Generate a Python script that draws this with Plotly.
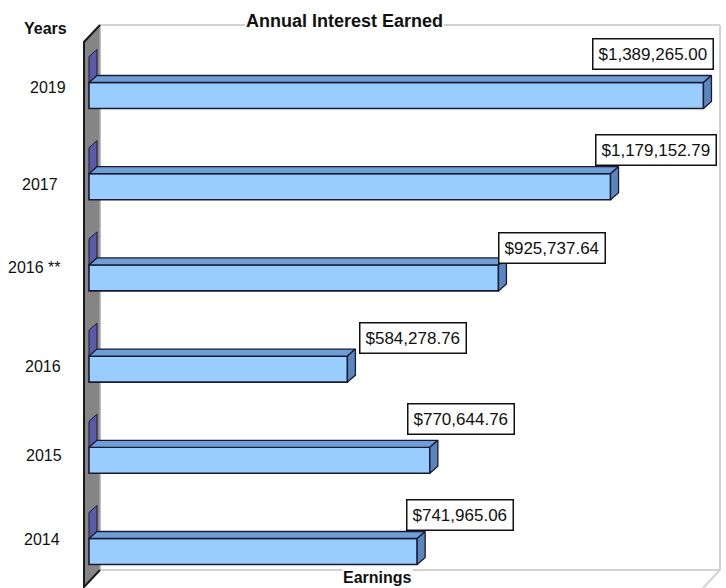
import plotly.graph_objects as go

# ---------------- data ----------------
years = ["2019", "2017", "2016 **", "2016", "2015", "2014"]          # top -> bottom
earnings = [1389265.00, 1179152.79, 925737.64, 584278.76, 770644.76, 741965.06]
hidden_series = [0, 0, 0, 0, 0, 0]                                      # purple (zero) series

title_text = "Annual Interest Earned"
y_title = "Years"
x_title = "Earnings"

# ---------------- styling / layout helpers ----------------
FONT = "Liberation Sans, Arial, sans-serif"
W_FIG, H_FIG = 726, 588
L, R, T, B = 83, 722, 25, 588            # plot area in pixels
X0PX, KX = 89.0, 4.423e-4                # pixel of zero, px per $
Y0PX, KY = 551.5, 91.2                   # pixel of bottom category centre, px per category
BAR_H = 0.285                            # bar thickness (category units)
DX = 8 / KX                              # 3-D depth offset in $ units
DY = 7 / KY                              # 3-D depth offset in category units

FRONT = "#99CCFF"
TOP = "#6F9ED6"
SIDE = "#5A86BD"
PURPLE = "#5A5AA8"
EDGE = "#1A1A33"

# per-label pixel offsets of the value boxes (relative to bar end / bar top)
box_dx = [-50.5, 45.5, 53.5, 66, 31, 43]
box_dy = [29, 24, 16.5, 18.5, 28.5, 23.5]
# tick label right edges (px) and vertical shift (px, up)
tick_right = [68, 60, 63, 63, 64, 62]
tick_up = [8, 2.5, 10.5, 3, 4.5, 12.5]

n = len(years)
ypos = [n - 1 - k for k in range(n)]


def px(x):
    return (x - L) / (R - L)


def py(y):
    return (B - y) / (B - T)


fig = go.Figure()

# purple zero-value bars (seen as side faces only)
xs, ys = [], []
for v, c in zip(hidden_series, ypos):
    cc = c + BAR_H
    xs += [v, v, v + DX, v + DX, v, None]
    ys += [cc - BAR_H / 2, cc + BAR_H / 2, cc + BAR_H / 2 + DY, cc - BAR_H / 2 + DY, cc - BAR_H / 2, None]
fig.add_trace(go.Scatter(x=xs, y=ys, fill="toself", fillcolor=PURPLE, mode="lines",
                         line=dict(color=EDGE, width=1), hoverinfo="skip", showlegend=False))

# blue front faces
fig.add_trace(go.Bar(x=earnings, y=ypos, orientation="h", width=BAR_H, base=0,
                     marker=dict(color=FRONT, line=dict(color=EDGE, width=1.6)),
                     hoverinfo="skip", showlegend=False))

# top faces
xs, ys = [], []
for v, c in zip(earnings, ypos):
    t = c + BAR_H / 2
    xs += [0, DX, v + DX, v, 0, None]
    ys += [t, t + DY, t + DY, t, t, None]
fig.add_trace(go.Scatter(x=xs, y=ys, fill="toself", fillcolor=TOP, mode="lines",
                         line=dict(color=EDGE, width=1.3), hoverinfo="skip", showlegend=False))

# end (side) faces
xs, ys = [], []
for v, c in zip(earnings, ypos):
    b, t = c - BAR_H / 2, c + BAR_H / 2
    xs += [v, v, v + DX, v + DX, v, None]
    ys += [b, t, t + DY, b + DY, b, None]
fig.add_trace(go.Scatter(x=xs, y=ys, fill="toself", fillcolor=SIDE, mode="lines",
                         line=dict(color=EDGE, width=1.3), hoverinfo="skip", showlegend=False))

annotations = []
# value boxes
for k, (v, c) in enumerate(zip(earnings, ypos)):
    annotations.append(dict(
        x=v, y=c + BAR_H / 2, xref="x", yref="y", text=f"${v:,.2f}", showarrow=False,
        xanchor="center", yanchor="middle", xshift=box_dx[k], yshift=box_dy[k],
        font=dict(family=FONT, size=17, color="#111111"),
        bgcolor="white", bordercolor="#111111", borderwidth=1.5, borderpad=5))
# category labels
for k, c in enumerate(ypos):
    annotations.append(dict(
        x=px(tick_right[k]), y=c, xref="paper", yref="y", text=years[k], showarrow=False,
        xanchor="right", yanchor="middle", yshift=tick_up[k],
        font=dict(family=FONT, size=16, color="#111111")))
# titles
annotations.append(dict(x=px(344), y=py(21), xref="paper", yref="paper", text=f"<b>{title_text}</b>",
                        showarrow=False, xanchor="center", yanchor="middle",
                        font=dict(family=FONT, size=18, color="#111111"), bgcolor="white", borderpad=0))
annotations.append(dict(x=px(45), y=py(29), xref="paper", yref="paper", text=f"<b>{y_title}</b>",
                        showarrow=False, xanchor="center", yanchor="middle",
                        font=dict(family=FONT, size=16, color="#111111")))
annotations.append(dict(x=px(377), y=py(577), xref="paper", yref="paper", text=f"<b>{x_title}</b>",
                        showarrow=False, xanchor="center", yanchor="middle",
                        font=dict(family=FONT, size=16, color="#111111"), bgcolor="white", borderpad=0))

GRID = "#D2D2D2"
shapes = [
    # back wall border and floor
    dict(type="line", xref="paper", yref="paper", x0=px(100), y0=py(25), x1=px(720), y1=py(25),
         line=dict(color=GRID, width=2), layer="below"),
    dict(type="line", xref="paper", yref="paper", x0=px(720), y0=py(25), x1=px(720), y1=py(570),
         line=dict(color=GRID, width=2), layer="below"),
    dict(type="line", xref="paper", yref="paper", x0=px(100), y0=py(570), x1=px(720), y1=py(570),
         line=dict(color=GRID, width=2), layer="below"),
    dict(type="line", xref="paper", yref="paper", x0=px(720), y0=py(570), x1=px(703), y1=py(588),
         line=dict(color=GRID, width=2), layer="below"),
    # left wall
    dict(type="path", xref="paper", yref="paper",
         path=f"M {px(83)},{py(42)} L {px(100)},{py(25)} L {px(100)},{py(570)} L {px(83)},{py(588)} Z",
         fillcolor="#858585", line=dict(width=0), layer="below"),
    dict(type="line", xref="paper", yref="paper", x0=px(100), y0=py(25), x1=px(100), y1=py(570),
         line=dict(color="#A8A8A8", width=1.5), layer="below"),
    dict(type="path", xref="paper", yref="paper",
         path=f"M {px(100)},{py(25)} L {px(84)},{py(42)} L {px(84)},{py(587)} L {px(100)},{py(570)}",
         line=dict(color="#1A1A1A", width=2), layer="below"),
]

fig.update_layout(
    width=W_FIG, height=H_FIG,
    margin=dict(l=L, r=W_FIG - R, t=T, b=H_FIG - B, pad=0),
    paper_bgcolor="white", plot_bgcolor="white",
    xaxis=dict(range=[(L - X0PX) / KX, (R - X0PX) / KX], visible=False, fixedrange=True),
    yaxis=dict(range=[(Y0PX - B) / KY, (Y0PX - T) / KY], visible=False, fixedrange=True),
    annotations=annotations, shapes=shapes, showlegend=False,
    font=dict(family=FONT),
)

fig.write_html("out.html", config={"displayModeBar": False},
               post_script="document.body.style.margin='0';document.body.style.overflow='hidden';")
